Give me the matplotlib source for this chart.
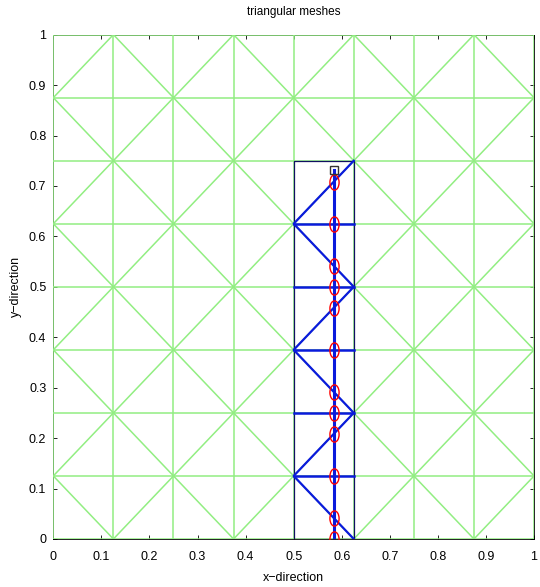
import numpy as np
import matplotlib.pyplot as plt
from matplotlib.path import Path
from matplotlib.transforms import Affine2D

plt.rcParams['font.family'] = ['Liberation Sans', 'DejaVu Sans']

# background mesh: 8 x 8 cells, h = 1/8
n_cells = 8
h = 1.0 / n_cells

# refined strip (blue): x in [0.5, 0.625], y in [0, 0.75]
strip_x = [0.5, 0.625]
strip_y = [0.0, 0.75]
strip_rows = [0.125, 0.25, 0.375, 0.5, 0.625]
# zig-zag diagonal vertices
zig_x = [0.625, 0.5, 0.625, 0.5, 0.625, 0.5, 0.625]
zig_y = [0.75, 0.625, 0.5, 0.375, 0.25, 0.125, 0.0]

# vertical line and its intersection points
line_x = 0.5833
line_top = 0.731
hit_y = [0.0, 0.0417, 0.125, 0.2083, 0.25, 0.2917, 0.375,
         0.4583, 0.5, 0.5417, 0.625, 0.7083]

green = '#92ee82'

fig = plt.figure(figsize=(5.4, 5.87), dpi=100)
ax = fig.add_axes([0.0987, 0.0818, 0.8903, 0.8592])

# green grid lines
for k in range(n_cells + 1):
    ax.plot([k * h, k * h], [0, 1], color=green, lw=1.1, zorder=2.6)
    ax.plot([0, 1], [k * h, k * h], color=green, lw=1.1, zorder=2.6)
# green diagonals
for i in range(n_cells):
    for j in range(n_cells):
        if (i + j) % 2 == 1:
            ax.plot([i * h, (i + 1) * h], [j * h, (j + 1) * h], color=green, lw=1.1, zorder=2.6)
        else:
            ax.plot([(i + 1) * h, i * h], [j * h, (j + 1) * h], color=green, lw=1.1, zorder=2.6)

# blue strip
ax.plot([strip_x[0], strip_x[1], strip_x[1], strip_x[0], strip_x[0]],
        [strip_y[0], strip_y[0], strip_y[1], strip_y[1], strip_y[0]],
        color='#101060', lw=0.9, zorder=3)
for yr in strip_rows:
    ax.plot(strip_x, [yr, yr], color='#0a1adc', lw=1.8, zorder=4)
ax.plot(zig_x, zig_y, color='#0a1adc', lw=1.6, zorder=4)
ax.plot([line_x, line_x], [0, line_top], color='#0a1adc', lw=2.2, zorder=5)

# markers
ellipse = Path.unit_circle().transformed(Affine2D().scale(0.6, 1.0))
ax.plot([line_x] * len(hit_y), hit_y, linestyle='none', marker=ellipse,
        markersize=11, markerfacecolor='none', markeredgecolor='red',
        markeredgewidth=1.0, zorder=6)
ax.plot([line_x], [line_top], linestyle='none', marker='s', markersize=6,
        markerfacecolor='none', markeredgecolor='#333333', markeredgewidth=1.0, zorder=6)

ax.set_xlim(0, 1)
ax.set_ylim(0, 1)
ticks = np.round(np.arange(0, 1.01, 0.1), 1)
ax.set_xticks(ticks)
ax.set_yticks(ticks)
ax.set_xticklabels(['0'] + ['%.1f' % t for t in ticks[1:-1]] + ['1'])
ax.set_yticklabels(['0'] + ['%.1f' % t for t in ticks[1:-1]] + ['1'])
ax.tick_params(direction='in', length=3, width=0.6, labelsize=9, top=True, right=True)
ax.tick_params(axis='x', pad=9)
ax.tick_params(axis='y', pad=5)
for s in ax.spines.values():
    s.set_linewidth(0.6)
ax.set_xlabel('x\u2212direction', fontsize=9, labelpad=6)
ax.set_ylabel('y\u2212direction', fontsize=9, labelpad=5)
ax.set_title('triangular meshes', fontsize=8.5, pad=14)

fig.savefig('out.png', dpi=100)
